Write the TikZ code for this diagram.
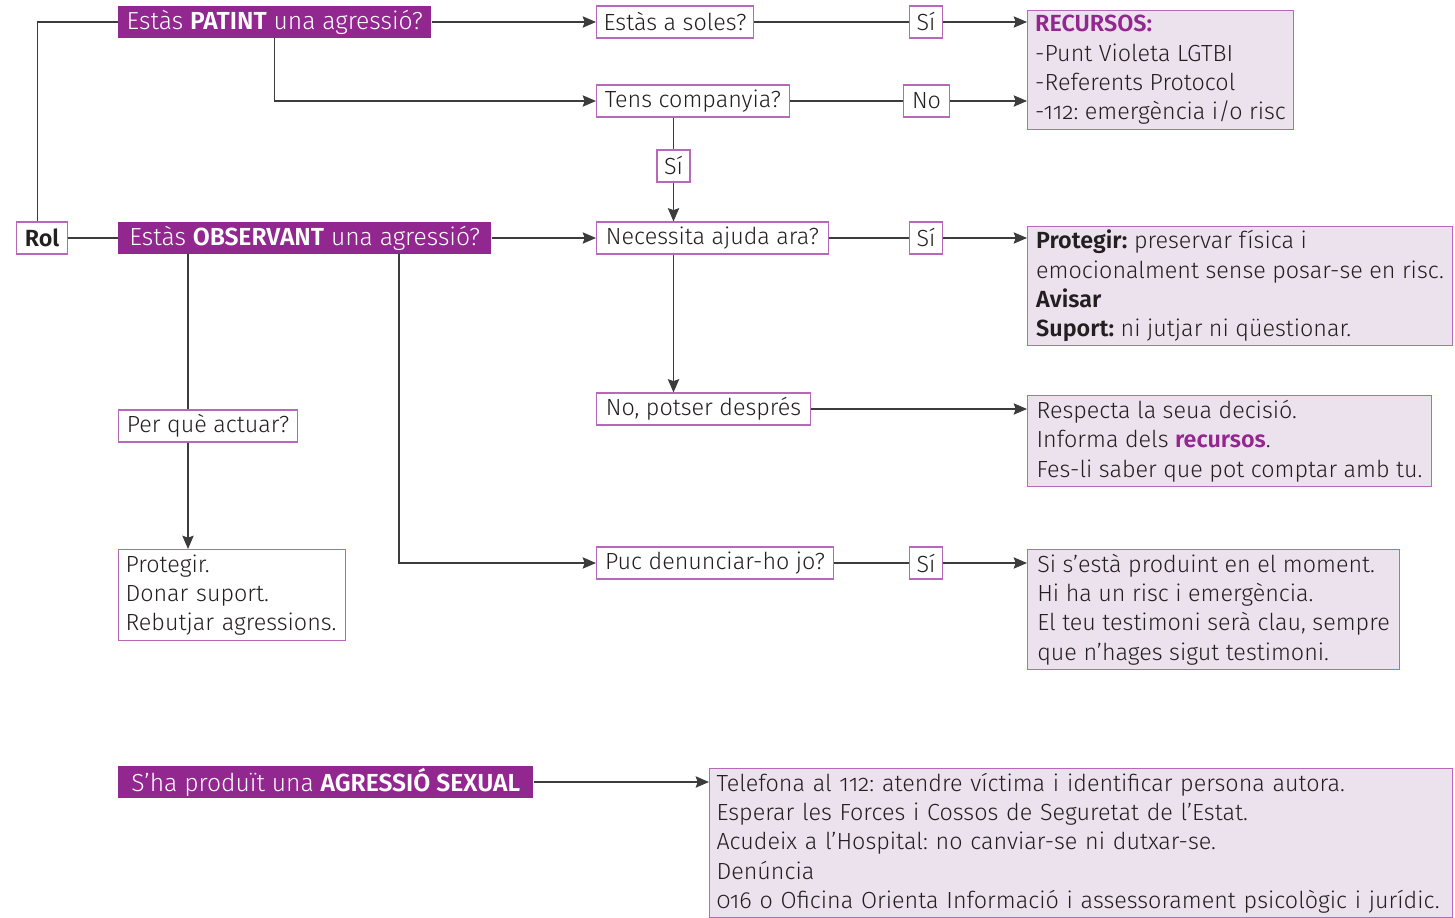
\documentclass[tikz,border=0pt]{standalone}
\usepackage{fontspec}
\setmainfont{Fira Sans}[UprightFont=* Light, BoldFont=* SemiBold, Numbers=OldStyle]
\usetikzlibrary{arrows.meta,calc}
\frenchspacing

\definecolor{headpurple}{RGB}{146,39,143}
\definecolor{edgepurple}{RGB}{183,104,184}
\definecolor{lavender}{RGB}{236,226,238}
\definecolor{inkgray}{RGB}{35,31,32}
\definecolor{wiregray}{RGB}{60,60,60}

\tikzset{
  headbox/.style={fill=headpurple, text=white, anchor=west, inner xsep=5.25pt, inner ysep=0pt, minimum height=24pt, font=\fontsize{18.5}{22}\selectfont},
  askbox/.style={draw=edgepurple, fill=white, text=inkgray, anchor=west, line width=0.8pt, inner xsep=5.25pt, inner ysep=0pt, minimum height=24pt},
  infobox/.style={draw=edgepurple, fill=lavender, text=inkgray, anchor=north west, line width=0.8pt, align=left, inner xsep=5.25pt, inner ysep=0pt},
  wire/.style={draw=wiregray, line width=1pt},
  flow/.style={wire, -{Stealth[length=10pt,width=8.5pt,inset=1.5pt]}}
}

\begin{document}
\begin{tikzpicture}[x=0.75pt,y=0.75pt,yscale=-1,xscale=1,font=\fontsize{17.5}{22}\selectfont]
\useasboundingbox (0,0) rectangle (1455,917);

%Rol and the two roles
\node[askbox, minimum width=38.25pt] (rol) at (16,238) {\textbf{Rol}};
\node[headbox, minimum width=234.75pt] (patint) at (118,22) {Estàs \textbf{PATINT} una agressió?};
\node[headbox, minimum width=279.75pt] (observ) at (118,238) {Estàs \textbf{OBSERVANT} una agressió?};

%Questions
\node[askbox, minimum width=117.75pt] (soles) at (596,22) {Estàs a soles?};
\node[askbox, minimum width=144.75pt] (company) at (596,101) {Tens companyia?};
\node[askbox, minimum width=174pt] (ajuda) at (596,238) {Necessita ajuda ara?};
\node[askbox, minimum width=160.5pt] (despres) at (596,409) {No, potser després};
\node[askbox, minimum width=177.75pt] (denuncia) at (596,563) {Puc denunciar-ho jo?};
\node[askbox, minimum width=134.25pt] (actuar) at (118,426) {Per què actuar?};

%Answers
\node[askbox, minimum width=24.75pt] (siSoles) at (909,22) {Sí};
\node[askbox, minimum width=34.5pt] (noCompany) at (903,101) {No};
\node[askbox, minimum width=24.75pt, anchor=center] (siCompany) at (673.5,166) {Sí};
\node[askbox, minimum width=24.75pt] (siAjuda) at (909,238) {Sí};
\node[askbox, minimum width=24.75pt] (siDenuncia) at (909,563) {Sí};

%Information boxes
\node[infobox, minimum width=199.5pt, minimum height=89.25pt] (recursos) at (1027,10)
  {\textcolor{headpurple}{\textbf{RECURSOS:}}\\-Punt Violeta LGTBI\\-Referents Protocol\\-112: emergència i/o risc};
\node[infobox, minimum width=318.75pt, minimum height=89.25pt] (protegir) at (1027,226)
  {\textbf{Protegir:} preservar física i\\emocionalment sense posar-se en risc.\\\textbf{Avisar}\\\textbf{Suport:} ni jutjar ni qüestionar.};
\node[infobox, minimum width=303pt, minimum height=68.25pt] (respecta) at (1027,395)
  {Respecta la seua decisió.\\Informa dels \textcolor{headpurple}{\textbf{recursos}}.\\Fes-li saber que pot comptar amb tu.};
\node[infobox, minimum width=279pt, minimum height=90pt] (moment) at (1027,549)
  {Si s’està produint en el moment.\\Hi ha un risc i emergència.\\El teu testimoni serà clau, sempre\\que n’hages sigut testimoni.};
\node[infobox, fill=white, text width=159.75pt, minimum height=68.25pt] (motius) at (118,549)
  {Protegir.\\Donar suport.\\Rebutjar agressions.};

%Sexual aggression
\node[headbox, minimum width=311.25pt] (sexual) at (118,782) {S’ha produït una \textbf{AGRESSIÓ SEXUAL}};
\node[infobox, text width=546.75pt, minimum height=111.75pt] (passos) at (709,768)
  {Telefona al 112: atendre víctima i identificar persona autora.\\Esperar les Forces i Cossos de Seguretat de l’Estat.\\Acudeix a l’Hospital: no canviar-se ni dutxar-se.\\Denúncia\\016 o Oficina Orienta Informació i assessorament psicològic i jurídic.};

%Branch points
\coordinate (obsLeft) at (188,254);
\coordinate (obsRight) at (399,254);

%Connectors
\draw[wire] ([xshift=-3.4pt]rol.north) |- (patint.west);
\draw[wire] (rol.east) -- (observ.west);
\draw[flow] (patint.east) -- (soles.west);
\draw[flow] (patint.south) |- (company.west);
\draw[wire] (soles.east) -- (siSoles.west);
\draw[flow] (siSoles.east) -- (siSoles.east -| recursos.west);
\draw[wire] (company.east) -- (noCompany.west);
\draw[flow] (noCompany.east) -- (noCompany.east -| recursos.west);
\draw[wire] (siCompany |- company.south) -- (siCompany.north);
\draw[flow] (siCompany.south) -- (siCompany |- ajuda.north);
\draw[flow] (observ.east) -- (ajuda.west);
\draw[wire] (ajuda.east) -- (siAjuda.west);
\draw[flow] (siAjuda.east) -- (siAjuda.east -| protegir.west);
\draw[flow] (siCompany |- ajuda.south) -- (siCompany |- despres.north);
\draw[flow] (despres.east) -- (despres.east -| respecta.west);
\draw[wire] (obsLeft) -- (obsLeft |- actuar.north);
\draw[flow] (obsLeft |- actuar.south) -- (obsLeft |- motius.north);
\draw[flow] (obsRight) |- (denuncia.west);
\draw[wire] (denuncia.east) -- (siDenuncia.west);
\draw[flow] (siDenuncia.east) -- (siDenuncia.east -| moment.west);
\draw[flow] (sexual.east) -- (sexual.east -| passos.west);

\end{tikzpicture}
\end{document}
